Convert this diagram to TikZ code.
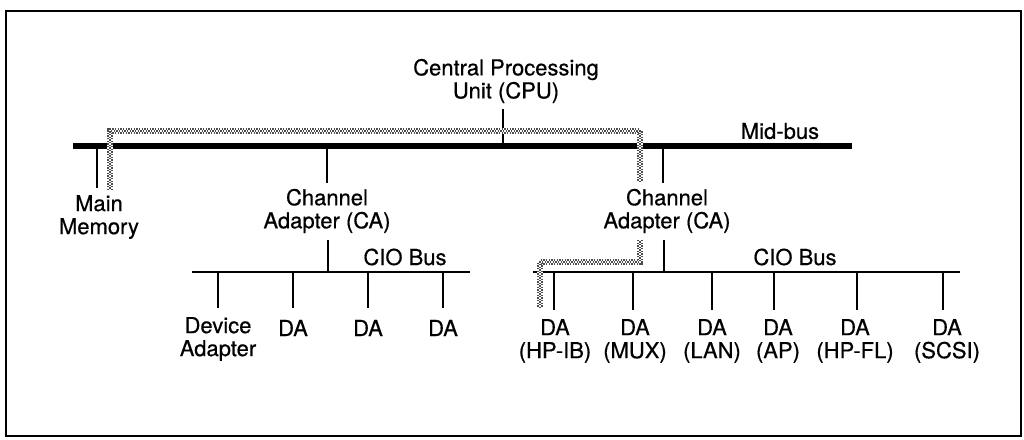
\documentclass[tikz,border=0pt]{standalone}
\usepackage{fontspec}
\setmainfont{TeX Gyre Heros}
\newfontfamily\lblfont{TeX Gyre Heros}[FakeBold=0.5]
\begin{document}
\begin{tikzpicture}[x=0.75pt,y=-0.75pt,
  lbl/.style={font=\lblfont\fontsize{16.5}{17.25}\selectfont, align=center, inner sep=0pt},
  stub/.style={line width=1.5pt},
  midbus/.style={line width=5.2pt},
  ciobus/.style={line width=2.2pt},
  frame/.style={line width=1.5pt},
  route/.style={line width=4pt, draw=black!70, dash pattern=on 1pt off 1pt,
    preaction={draw=white, line width=4pt},
    postaction={draw=white, line width=1.6pt, dash pattern=on 1pt off 1pt},
    postaction={draw=black!70, line width=1.6pt, dash pattern=on 1pt off 1pt, dash phase=1pt}}]
\useasboundingbox (0,0) rectangle (1024,439);
\draw[frame] (6,11) rectangle (1021,436);

% Mid-bus
\coordinate (mbL) at (73,146);
\coordinate (mbR) at (852,146);
\draw[midbus] (mbL) -- (mbR);
\node[lbl] (midlbl) at (780,131) {Mid-bus};

% CPU
\node[lbl] (cpu) at (506,81) {Central Processing\\Unit (CPU)};
\coordinate (cpuT) at (503,109);
\coordinate (cpuB) at (503,146);
\draw[stub] (cpuT) -- (cpuB);

% Main memory
\node[lbl] (mem) at (99,217) {Main\\Memory};
\coordinate (memT) at (97,146);
\coordinate (memB) at (97,188);
\draw[stub] (memT) -- (memB);

% Left channel adapter
\node[lbl] (lca) at (327,211) {Channel\\Adapter (CA)};
\coordinate (lcaT1) at (327,146);
\coordinate (lcaB1) at (327,183);
\coordinate (lcaT2) at (328,240);
\coordinate (lcaB2) at (328,272);
\draw[stub] (lcaT1) -- (lcaB1);
\draw[stub] (lcaT2) -- (lcaB2);

% Left CIO bus
\coordinate (lbL) at (192,272);
\coordinate (lbR) at (470,272);
\draw[ciobus] (lbL) -- (lbR);
\node[lbl] (lciolbl) at (405,257) {CIO Bus};
\foreach \n/\x in {a/218,b/293,c/368,d/443}{
  \coordinate (ls\n T) at (\x,272);
  \coordinate (ls\n B) at (\x,308);
  \draw[stub] (ls\n T) -- (ls\n B);
}
\node[lbl] (dev) at (218,339) {Device\\Adapter};
\node[lbl] (lda1) at (293,328) {DA};
\node[lbl] (lda2) at (368,328) {DA};
\node[lbl] (lda3) at (443,328) {DA};

% Right channel adapter
\node[lbl] (rca) at (667,211) {Channel\\Adapter (CA)};
\coordinate (rcaT1) at (663,146);
\coordinate (rcaB1) at (663,183);
\coordinate (rcaT2) at (664,240);
\coordinate (rcaB2) at (664,272);
\draw[stub] (rcaT1) -- (rcaB1);
\draw[stub] (rcaT2) -- (rcaB2);

% Right CIO bus
\coordinate (rbL) at (533,272);
\coordinate (rbR) at (960,272);
\draw[ciobus] (rbL) -- (rbR);
\node[lbl] (rciolbl) at (795,257) {CIO Bus};
\foreach \n/\x in {a/554,b/633,c/712,d/774,e/857,f/943}{
  \coordinate (rs\n T) at (\x,272);
  \coordinate (rs\n B) at (\x,310);
  \draw[stub] (rs\n T) -- (rs\n B);
}
\node[lbl] (rda1) at (555,341) {DA\\(HP-IB)};
\node[lbl] (rda2) at (635,341) {DA\\(MUX)};
\node[lbl] (rda3) at (712,341) {DA\\(LAN)};
\node[lbl] (rda4) at (778,341) {DA\\(AP)};
\node[lbl] (rda5) at (855,341) {DA\\(HP-FL)};
\node[lbl] (rda6) at (947,341) {DA\\(SCSI)};

% Data path route
\coordinate (p1) at (110,190);
\coordinate (p2) at (110,131);
\coordinate (p3) at (640,131);
\coordinate (p4) at (640,182);
\coordinate (p5) at (640,240);
\coordinate (p6) at (640,262);
\coordinate (p7) at (540,262);
\coordinate (p8) at (540,308);
\draw[route] (p1) -- (p2) -- (p3) -- (p4);
\draw[route] (p5) -- (p6) -- (p7) -- (p8);
\end{tikzpicture}
\end{document}
